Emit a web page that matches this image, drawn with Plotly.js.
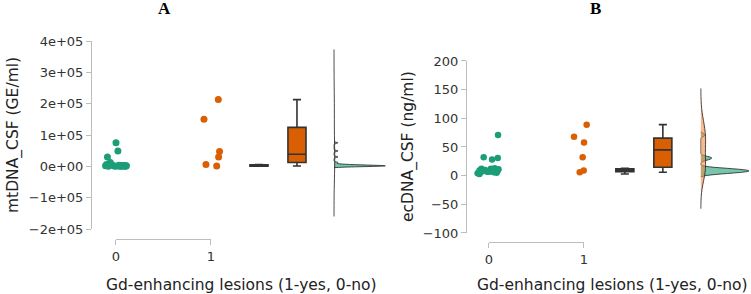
<!DOCTYPE html>
<html>
<head>
<meta charset="utf-8">
<script src="https://cdn.plot.ly/plotly-3.0.1.min.js"></script>
<style>html,body{margin:0;padding:0;background:#fff}#chart{width:751px;height:294px}</style>
</head>
<body>
<div id="chart"></div>
<script>
// ---- Data ----
// Panel A: mtDNA_CSF (GE/ml)
var mtGroup0 = [75000, 49000, 30000, 12000, 6000, 5000, 4000, 3500, 3000, 2500, 2000, 1800, 1500, 1200, 1000, 800, 600, 500, 300, 200, 100];
var mtGroup0Jitter = [0.0, 0.02, -0.09, -0.06, -0.1, -0.07, -0.04, 0.03, 0.06, 0.09, 0.11, -0.11, 0.08, 0.1, -0.02, 0.05, 0.0, 0.07, 0.1, -0.08, 0.04];
var mtGroup1 = [213000, 150000, 47000, 30000, 6000, 1000];
var mtGroup1Jitter = [1.077, 0.926, 1.09, 1.08, 0.947, 1.06];
// Panel B: ecDNA_CSF (ng/ml)
var ecGroup0 = [71, 32, 31, 28, 13, 12, 12, 11, 10, 10, 9, 9, 8, 8, 7, 7, 6, 6, 5, 4, 3];
var ecGroup0Jitter = [0.095, -0.056, 0.092, 0.032, 0.06, -0.08, 0.02, 0.1, -0.04, 0.07, -0.1, 0.04, -0.06, 0.09, 0.0, -0.02, 0.05, -0.09, 0.08, -0.12, -0.1];
var ecGroup1 = [89, 68, 58, 32, 9, 6];
var ecGroup1Jitter = [1.028, 0.895, 1.0, 0.986, 0.997, 0.955];

var groupTicks = [0, 1];
var groupTickText = ['0', '1'];
var mtTickVals = [-200000, -100000, 0, 100000, 200000, 300000, 400000];
var mtTickText = ['\u22122e+05', '\u22121e+05', '0e+00', '1e+05', '2e+05', '3e+05', '4e+05'];
var ecTickVals = [-100, -50, 0, 50, 100, 150, 200];

var teal = '#1b9e77', orange = '#d95f02';
var font = 'DejaVu Sans, sans-serif';

// R-style (type 7) quartiles and Tukey whisker ends, computed from the data arrays
function stats(arr) {
  var s = arr.slice().sort(function (a, b) { return a - b; });
  function q(p) { var h = (s.length - 1) * p, lo = Math.floor(h), hi = Math.min(lo + 1, s.length - 1); return s[lo] + (h - lo) * (s[hi] - s[lo]); }
  var q1 = q(0.25), med = q(0.5), q3 = q(0.75), iqr = q3 - q1;
  var inside = s.filter(function (v) { return v >= q1 - 1.5 * iqr && v <= q3 + 1.5 * iqr; });
  return {q1: q1, med: med, q3: q3, lo: inside[0], hi: inside[inside.length - 1]};
}

function pts(x, y, color, xa, ya, size) {
  return {type: 'scatter', mode: 'markers', x: x, y: y, xaxis: xa, yaxis: ya,
    marker: {color: color, size: size, line: {width: 0}}, hoverinfo: 'skip', showlegend: false};
}
function box(y, pos, fill, xa, ya) {
  var st = stats(y);
  return {type: 'box', x: [pos], q1: [st.q1], median: [st.med], q3: [st.q3],
    lowerfence: [st.lo], upperfence: [st.hi], xaxis: xa, yaxis: ya, width: 0.19, boxpoints: false,
    fillcolor: fill, line: {color: '#333', width: 1.6}, whiskerwidth: 0.45,
    hoverinfo: 'skip', showlegend: false};
}
function vio(y, pos, fill, bw, span, xa, ya, w) {
  var t = {type: 'violin', y: y, x0: pos, xaxis: xa, yaxis: ya, side: 'positive',
    bandwidth: bw, points: false, box: {visible: false}, meanline: {visible: false},
    fillcolor: fill, line: {color: '#222', width: 0.8}, scalemode: 'width',
    width: w, hoverinfo: 'skip', showlegend: false};
  if (span) { t.spanmode = 'manual'; t.span = span; }
  return t;
}

var data = [
  // Panel A
  pts(mtGroup0Jitter, mtGroup0, teal, 'x', 'y', 7),
  pts(mtGroup1Jitter, mtGroup1, orange, 'x', 'y', 7),
  box(mtGroup0, 1.505, '#3a3a3a', 'x', 'y'),
  box(mtGroup1, 1.905, orange, 'x', 'y'),
  vio(mtGroup0, 2.295, 'rgba(27,158,119,0.6)', 2000, null, 'x', 'y', 1.08),
  vio(mtGroup1, 2.295, 'rgba(240,140,70,0.6)', 53000, [-160000, 373000], 'x', 'y', 0.015),
  {type: 'scatter', x: [], y: [], xaxis: 'x2', yaxis: 'y', hoverinfo: 'skip', showlegend: false},
  // Panel B
  pts(ecGroup0Jitter, ecGroup0, teal, 'x3', 'y2', 6.5),
  pts(ecGroup1Jitter, ecGroup1, orange, 'x3', 'y2', 6.5),
  box(ecGroup0, 1.43, '#3a3a3a', 'x3', 'y2'),
  box(ecGroup1, 1.83, orange, 'x3', 'y2'),
  vio(ecGroup0, 2.23, 'rgba(27,158,119,0.6)', 2.5, null, 'x3', 'y2', 1.01),
  vio(ecGroup1, 2.23, 'rgba(240,140,70,0.6)', 21, [-57.6, 152], 'x3', 'y2', 0.1),
  {type: 'scatter', x: [], y: [], xaxis: 'x4', yaxis: 'y2', hoverinfo: 'skip', showlegend: false}
];

var axLine = '#bdbdbd';
var tickFont = {family: font, size: 13, color: '#333'};
function yAxis(domain, range, pos, tickvals, ticktext) {
  var a = {domain: domain, range: range, anchor: 'free', position: pos, showline: true,
    linecolor: axLine, linewidth: 1, ticks: 'outside', ticklen: 5, tickcolor: axLine,
    tickvals: tickvals, showgrid: false, zeroline: false, tickfont: tickFont, fixedrange: true};
  if (ticktext) a.ticktext = ticktext;
  return a;
}
function xVis(domain, pos) {
  return {domain: domain, range: [0, 1], anchor: 'free', position: pos, showline: true,
    linecolor: axLine, linewidth: 1, ticks: 'outside', ticklen: 5, tickcolor: axLine,
    tickvals: groupTicks, ticktext: groupTickText, showgrid: false, zeroline: false,
    tickfont: tickFont, fixedrange: true};
}
function xData(domain, range, anchor) {
  return {domain: domain, range: range, anchor: anchor, visible: false, fixedrange: true};
}

var titleFont = {family: font, size: 15.5, color: '#222'};
var layout = {
  width: 751, height: 294,
  margin: {l: 0, r: 0, t: 0, b: 0},
  paper_bgcolor: '#fff', plot_bgcolor: 'rgba(0,0,0,0)',
  showlegend: false,
  xaxis: xData([0.12117, 0.53262], [-0.26316, 2.98947], 'y'),
  xaxis2: xVis([0.15446, 0.28096], 0.18707),
  yaxis: yAxis([0.22109, 0.86054], [-200000, 400000], 0.12117, mtTickVals, mtTickText),
  xaxis3: xData([0.62051, 1.0], [-0.24211, 2.75789], 'y2'),
  xaxis4: xVis([0.65113, 0.77763], 0.17687),
  yaxis2: yAxis([0.20748, 0.79252], [-100, 200], 0.62051, ecTickVals, null),
  annotations: [
    {text: '<b>A</b>', xref: 'paper', yref: 'paper', x: 0.2197, y: 0.9694, showarrow: false,
     font: {family: 'Liberation Serif, serif', size: 17, color: '#000'}, xanchor: 'center', yanchor: 'middle'},
    {text: '<b>B</b>', xref: 'paper', yref: 'paper', x: 0.7923, y: 0.9694, showarrow: false,
     font: {family: 'Liberation Serif, serif', size: 17, color: '#000'}, xanchor: 'center', yanchor: 'middle'},
    {text: 'mtDNA_CSF (GE/ml)', xref: 'paper', yref: 'paper', x: 0.0173, y: 0.5408, textangle: -90,
     showarrow: false, font: titleFont, xanchor: 'center', yanchor: 'middle'},
    {text: 'ecDNA_CSF (ng/ml)', xref: 'paper', yref: 'paper', x: 0.5433, y: 0.5, textangle: -90,
     showarrow: false, font: titleFont, xanchor: 'center', yanchor: 'middle'},
    {text: 'Gd-enhancing lesions (1-yes, 0-no)', xref: 'paper', yref: 'paper', x: 0.3222, y: 0.0306,
     showarrow: false, font: titleFont, xanchor: 'center', yanchor: 'middle'},
    {text: 'Gd-enhancing lesions (1-yes, 0-no)', xref: 'paper', yref: 'paper', x: 0.8162, y: 0.0306,
     showarrow: false, font: titleFont, xanchor: 'center', yanchor: 'middle'}
  ]
};

Plotly.newPlot('chart', data, layout, {displayModeBar: false, staticPlot: true});
</script>
</body>
</html>
